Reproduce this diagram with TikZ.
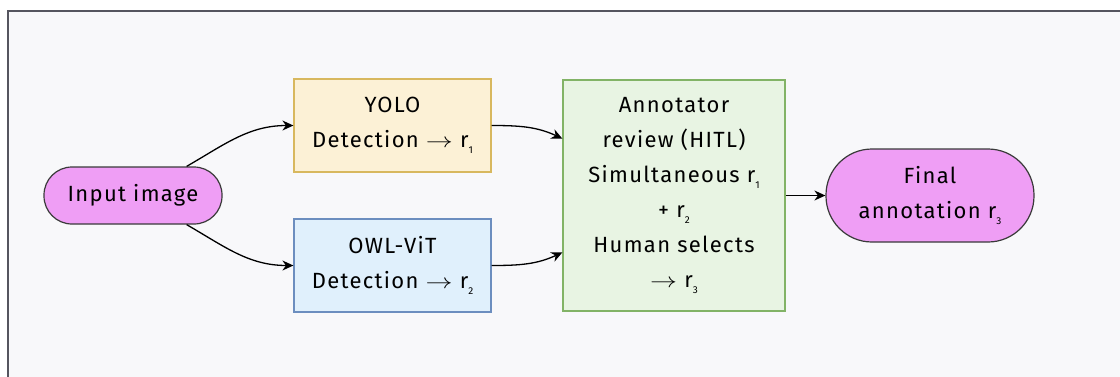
\documentclass[tikz,border=0pt]{standalone}
\usepackage{fontspec}
\setmainfont[LetterSpace=6]{Fira Sans}
\usetikzlibrary{arrows.meta,calc}
\definecolor{bgc}{HTML}{F8F8FA}
\definecolor{framec}{HTML}{55555F}
\definecolor{yfill}{HTML}{FCF1D6}
\definecolor{ydraw}{HTML}{D8B85E}
\definecolor{bfill}{HTML}{E0F0FC}
\definecolor{bdraw}{HTML}{6C8EBF}
\definecolor{gfill}{HTML}{E8F4E3}
\definecolor{gdraw}{HTML}{82B366}
\definecolor{pfill}{HTML}{EF9EF5}
\definecolor{pdraw}{HTML}{3A3A3A}
\newcommand{\sbs}[1]{\raisebox{-6pt}{\fontsize{10}{10}\selectfont #1}}
\newcommand{\arr}{\scalebox{1.3}[1]{$\rightarrow$}}
\tikzset{
  base/.style={align=center, font=\fontsize{22}{35}\selectfont, text=black, inner sep=0pt, line width=1.2pt},
  pill/.style={base, draw=pdraw, fill=pfill, rounded corners=#1},
  boxy/.style={base, draw=ydraw, fill=yfill},
  boxb/.style={base, draw=bdraw, fill=bfill},
  boxg/.style={base, draw=gdraw, fill=gfill},
  conn/.style={line width=1.3pt, -{Stealth[length=11pt,width=10pt]}},
}
\begin{document}
\begin{tikzpicture}[x=1pt,y=1pt]
\useasboundingbox (0,0) rectangle (1120,-376);
\fill[white] (0,0) rectangle (1120,-376);
\begin{scope}
\clip (0,0) rectangle (1120,-376);
\draw[framec, line width=2pt, fill=bgc] (8,-11) rectangle (1140,-400);
\end{scope}
\node[pill=28pt, minimum width=178pt, minimum height=57pt] (in) at (133,-195.5) {Input image};
\node[boxy, minimum width=197pt, minimum height=93pt, text depth=6pt] (yolo) at (392.5,-125.5) {YOLO\\Detection \arr\ r\sbs{1}};
\node[boxb, minimum width=197pt, minimum height=93pt, text depth=6pt] (owl) at (392.5,-265.5) {OWL-ViT\\Detection \arr\ r\sbs{2}};
\node[boxg, minimum width=222pt, minimum height=231pt, text depth=6pt] (ann) at (674,-195.5) {Annotator\\review (HITL)\\Simultaneous r\sbs{1}\\+ r\sbs{2}\\Human selects\\\arr\ r\sbs{3}};
\node[pill=46pt, minimum width=208pt, minimum height=93pt, text depth=6pt] (fin) at (930,-195.5) {Final\\annotation r\sbs{3}};
\draw[conn] ([xshift=-36pt]in.north east) to[out=30,in=180] (yolo.west);
\draw[conn] ([xshift=-36pt]in.south east) to[out=-30,in=180] (owl.west);
\draw[conn] (yolo.east) to[out=0,in=155] ($(ann.north west)!0.255!(ann.south west)$);
\draw[conn] (owl.east) to[out=0,in=205] ($(ann.north west)!0.745!(ann.south west)$);
\draw[conn] (ann.east) -- (fin.west);
\end{tikzpicture}
\end{document}
